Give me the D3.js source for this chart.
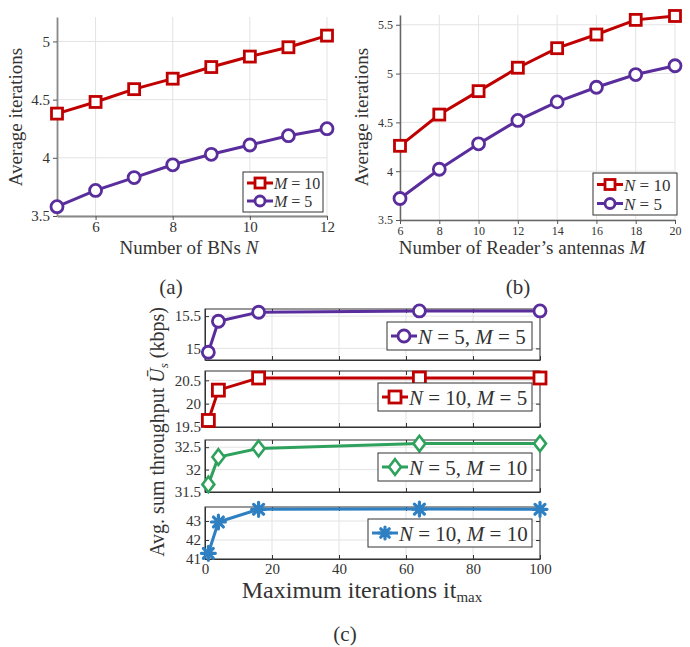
<!DOCTYPE html>
<html><head><meta charset="utf-8">
<script src="https://cdn.jsdelivr.net/npm/d3@7"></script>
<style>body{margin:0;background:#fff}svg{display:block;font-family:'Liberation Serif','Times New Roman','DejaVu Serif',serif}svg text{font-family:'Liberation Serif','Times New Roman','DejaVu Serif',serif !important;fill:#333}</style>
</head><body><svg id="c" width="690" height="647"></svg>
<script>
// Panel (a)
const aN = [5,6,7,8,9,10,11,12];
const aM10 = [4.38,4.48,4.59,4.68,4.78,4.87,4.95,5.05];
const aM5 = [3.58,3.72,3.83,3.94,4.03,4.11,4.19,4.25];
const aYTicks = [3.5,4,4.5,5];
const aXTicks = [6,8,10,12];
// Panel (b)
const bM = [6,8,10,12,14,16,18,20];
const bN10 = [4.26,4.58,4.82,5.06,5.26,5.40,5.55,5.59];
const bN5 = [3.72,4.02,4.28,4.52,4.71,4.86,4.99,5.08];
const bYTicks = [3.5,4,4.5,5,5.5];
const bXTicks = [6,8,10,12,14,16,18,20];
// Panel (c)
const cIt = [1,4,16,64,100];
const cN5M5 = [14.94,15.42,15.56,15.58,15.58];
const cN10M5 = [19.64,20.29,20.55,20.55,20.55];
const cN5M10 = [31.67,32.28,32.47,32.58,32.58];
const cN10M10 = [41.3,42.95,43.62,43.63,43.62];
const cXTicks = [0,20,40,60,80,100];

const FONT="'Liberation Serif','Times New Roman','DejaVu Serif',serif";
const RED="#c00000", PURPLE="#5a2d9c", GREEN="#2ea15c", BLUE="#2f80c2";
const svg = d3.select("#c");

function marker(g, type, x, y, color, s){
  if(type==="square"){
    g.append("rect").attr("x",x-s).attr("y",y-s).attr("width",2*s).attr("height",2*s)
     .attr("fill","#fff").attr("stroke",color).attr("stroke-width",2.8);
  } else if(type==="circle"){
    g.append("circle").attr("cx",x).attr("cy",y).attr("r",s).attr("fill","#fff").attr("stroke",color).attr("stroke-width",2.8);
  } else if(type==="diamond"){
    g.append("path").attr("d",`M${x},${y-s*1.3}L${x+s},${y}L${x},${y+s*1.3}L${x-s},${y}Z`)
     .attr("fill","#fff").attr("stroke",color).attr("stroke-width",2.6);
  } else if(type==="star"){
    const p=[];
    for(let k=0;k<4;k++){const a=k*Math.PI/4; p.push(`M${x-s*Math.cos(a)},${y-s*Math.sin(a)}L${x+s*Math.cos(a)},${y+s*Math.sin(a)}`);}
    g.append("path").attr("d",p.join("")).attr("stroke",color).attr("stroke-width",3.2).attr("stroke-linecap","round");
  }
}

function series(g, x, y, xs, ys, color, type, s){
  const line=d3.line().x((d,i)=>x(xs[i])).y(d=>y(d));
  g.append("path").datum(ys).attr("d",line).attr("fill","none").attr("stroke",color).attr("stroke-width",3);
  ys.forEach((v,i)=>marker(g,type,x(xs[i]),y(v),color,s));
}

function txt(g){ return g.append("text").style("font-family",FONT).attr("fill","#333"); }

function legend(g, x0, y0, w, items, fs, s, rowH){
  const h = items.length*rowH+4;
  g.append("rect").attr("x",x0).attr("y",y0).attr("width",w).attr("height",h)
   .attr("fill","#fff").attr("stroke","#333").attr("stroke-width",1);
  items.forEach((it,i)=>{
    const yy=y0+2+rowH/2+i*rowH;
    g.append("line").attr("x1",x0+4).attr("x2",x0+30).attr("y1",yy).attr("y2",yy).attr("stroke",it.color).attr("stroke-width",3);
    marker(g,it.type,x0+17,yy,it.color,s);
    const t=txt(g).attr("x",x0+31).attr("y",yy+fs*0.36).attr("font-size",fs);
    it.label.forEach(p=>t.append("tspan").attr("font-style",p[1]?"italic":"normal").text(p[0]));
  });
}

function grid(g, x, y, xTicks, yTicks){
  const [x0,x1]=x.range(), [y1,y0]=y.range();
  xTicks.forEach(t=>g.append("line").attr("x1",x(t)).attr("x2",x(t)).attr("y1",y0).attr("y2",y1).attr("stroke","#e3e3e3").attr("stroke-width",1));
  yTicks.forEach(t=>g.append("line").attr("x1",x0).attr("x2",x1).attr("y1",y(t)).attr("y2",y(t)).attr("stroke","#e3e3e3").attr("stroke-width",1));
}
function styleAxis(a, fs, domColor, domW){
  a.attr("font-family",null);
  a.select(".domain").attr("stroke",domColor).attr("stroke-width",domW);
  a.selectAll(".tick line").attr("stroke","#555");
  a.selectAll("text").attr("font-size",fs).style("font-family",FONT).attr("fill","#333");
}

// ---------- Panel (a)
{
  const g=svg.append("g");
  const x=d3.scaleLinear().domain([5,12]).range([57,327]);
  const y=d3.scaleLinear().domain([3.5,5.21]).range([216,17]);
  grid(g,x,y,aXTicks,aYTicks);
  const ax=g.append("g").attr("transform","translate(0,216)").call(d3.axisBottom(x).tickValues(aXTicks).tickSize(4).tickSizeOuter(0).tickFormat(d3.format("d")));
  const ay=g.append("g").attr("transform","translate(57,0)").call(d3.axisLeft(y).tickValues(aYTicks).tickSize(4).tickSizeOuter(0).tickFormat(d=>d));
  styleAxis(ax,15,"#888",1.8); styleAxis(ay,15,"#888",1.8);
  ax.selectAll("text").attr("y",5).attr("dy","0.75em");
  series(g,x,y,aN,aM10,RED,"square",5.5);
  series(g,x,y,aN,aM5,PURPLE,"circle",6);
  legend(g,243,172,80,[{color:RED,type:"square",label:[["M",1],[" = 10",0]]},{color:PURPLE,type:"circle",label:[["M",1],[" = 5",0]]}],16,5,18);
  txt(g).attr("transform","translate(22,117) rotate(-90)").attr("text-anchor","middle").attr("font-size",19).text("Average iterations");
  const t=txt(g).attr("x",189).attr("y",254).attr("text-anchor","middle").attr("font-size",19);
  t.append("tspan").text("Number of BNs ");t.append("tspan").attr("font-style","italic").text("N");
}
// ---------- Panel (b)
{
  const g=svg.append("g");
  const x=d3.scaleLinear().domain([6,20]).range([400,675]);
  const y=d3.scaleLinear().domain([3.5,5.6]).range([220,15]);
  grid(g,x,y,bXTicks,bYTicks);
  const ax=g.append("g").attr("transform","translate(0,220)").call(d3.axisBottom(x).tickValues(bXTicks).tickSize(4).tickSizeOuter(0).tickFormat(d3.format("d")));
  const ay=g.append("g").attr("transform","translate(400,0)").call(d3.axisLeft(y).tickValues(bYTicks).tickSize(4).tickSizeOuter(0).tickFormat(d=>d));
  styleAxis(ax,12,"#666",1.5); styleAxis(ay,12,"#666",1.5);
  ax.selectAll("text").attr("y",6).attr("dy","0.75em");
  series(g,x,y,bM,bN10,RED,"square",5.5);
  series(g,x,y,bM,bN5,PURPLE,"circle",6);
  legend(g,593,173,84,[{color:RED,type:"square",label:[["N",1],[" = 10",0]]},{color:PURPLE,type:"circle",label:[["N",1],[" = 5",0]]}],17,5,19);
  txt(g).attr("transform","translate(368,117) rotate(-90)").attr("text-anchor","middle").attr("font-size",19).text("Average iterations");
  const t=txt(g).attr("x",522).attr("y",254).attr("text-anchor","middle").attr("font-size",19);
  t.append("tspan").text("Number of Reader\u2019s antennas ");t.append("tspan").attr("font-style","italic").text("M");
}
// ---------- Panel (c)
{
  const x=d3.scaleLinear().domain([0,100]).range([205,540]);
  const subs=[
    {vals:cN5M5,dom:[14.82,15.61],top:309,bot:360,ticks:[15,15.5],color:PURPLE,type:"circle",lab:[["N",1],[" = 5, ",0],["M",1],[" = 5",0]],lx:387,ly:322,lw:145},
    {vals:cN10M5,dom:[19.5,20.7],top:371,bot:427,ticks:[19.5,20,20.5],color:RED,type:"square",lab:[["N",1],[" = 10, ",0],["M",1],[" = 5",0]],lx:378,ly:383,lw:154},
    {vals:cN5M10,dom:[31.5,32.66],top:440,bot:492,ticks:[31.5,32,32.5],color:GREEN,type:"diamond",lab:[["N",1],[" = 5, ",0],["M",1],[" = 10",0]],lx:378,ly:453,lw:154},
    {vals:cN10M10,dom:[41,43.74],top:507,bot:559,ticks:[41,42,43],color:BLUE,type:"star",lab:[["N",1],[" = 10, ",0],["M",1],[" = 10",0]],lx:368,ly:519,lw:164}
  ];
  subs.forEach((sp,i)=>{
    const g=svg.append("g");
    const y=d3.scaleLinear().domain(sp.dom).range([sp.bot,sp.top]);
    grid(g,x,y,cXTicks,sp.ticks);
    g.append("rect").attr("x",205).attr("y",sp.top).attr("width",335).attr("height",sp.bot-sp.top).attr("fill","none").attr("stroke","#333").attr("stroke-width",1);
    const ax=g.append("g").attr("transform",`translate(0,${sp.bot})`).call(d3.axisBottom(x).tickValues(cXTicks).tickSize(-4).tickSizeOuter(0).tickFormat(i===3?d3.format("d"):""));
    const ay=g.append("g").attr("transform","translate(205,0)").call(d3.axisLeft(y).tickValues(sp.ticks).tickSize(-4).tickSizeOuter(0).tickFormat(d=>d));
    const ar=g.append("g").attr("transform","translate(540,0)").call(d3.axisRight(y).tickValues(sp.ticks).tickSize(-4).tickSizeOuter(0).tickFormat(""));
    ar.select(".domain").remove();
    const at=g.append("g").attr("transform",`translate(0,${sp.top})`).call(d3.axisTop(x).tickValues(cXTicks).tickSize(-4).tickSizeOuter(0).tickFormat(""));
    at.select(".domain").remove();
    [ax,ay].forEach(a=>styleAxis(a,15,"#333",1));
    g.selectAll(".tick line").attr("stroke","#333");
    ay.selectAll("text").attr("x",-4);
    ax.selectAll("text").attr("y",4).attr("dy","0.75em");
    series(g,x,y,cIt,sp.vals,sp.color,sp.type,sp.type==="star"?7:6);
    legend(g,sp.lx,sp.ly,sp.lw,[{color:sp.color,type:sp.type,label:sp.lab}],21,6,24);
  });
  const yl=txt(svg).attr("transform","translate(164,432) rotate(-90)").attr("text-anchor","middle").attr("font-size",20);
  yl.append("tspan").text("Avg. sum throughput ");
  yl.append("tspan").attr("font-style","italic").text("U\u0304");
  yl.append("tspan").attr("font-style","italic").attr("font-size",13).attr("dy",4).text("s");
  yl.append("tspan").attr("dy",-4).text(" (kbps)");
  const xl=txt(svg).attr("x",362).attr("y",598).attr("text-anchor","middle").attr("font-size",24);
  xl.append("tspan").text("Maximum iterations it");
  xl.append("tspan").attr("font-size",15).attr("dy",4).text("max");
  txt(svg).attr("x",171).attr("y",294).attr("text-anchor","middle").attr("font-size",21).text("(a)");
  txt(svg).attr("x",518).attr("y",294).attr("text-anchor","middle").attr("font-size",21).text("(b)");
  txt(svg).attr("x",345).attr("y",641).attr("text-anchor","middle").attr("font-size",21).text("(c)");
}
</script></body></html>
